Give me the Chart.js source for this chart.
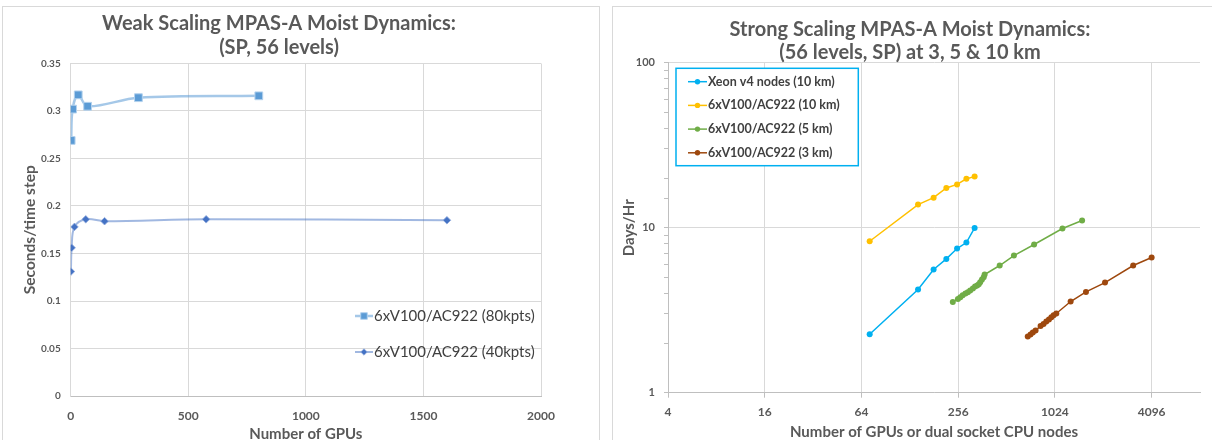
<!DOCTYPE html>
<html><head><meta charset="utf-8">
<script src="https://cdn.jsdelivr.net/npm/chart.js@4"></script>
<style>
html,body{margin:0;padding:0;background:#fff;overflow:hidden;width:1212px;height:440px;}
.panel{position:absolute;border:1px solid #d9d9d9;box-sizing:border-box;}
canvas{position:absolute;top:0;}
</style></head><body>
<div class="panel" style="left:2px;top:6px;width:598px;height:500px"></div>
<div class="panel" style="left:612px;top:6px;width:700px;height:500px"></div>
<canvas id="weak" width="606" height="450" style="left:0px"></canvas>
<canvas id="strong" width="606" height="450" style="left:606px"></canvas>
<script>
// ---------- data: weak scaling ----------
const weakTitle = ['Weak Scaling MPAS-A Moist Dynamics:', '(SP, 56 levels)'];
const weakLabels = ['6xV100/AC922 (80kpts)', '6xV100/AC922 (40kpts)'];
const weakGpus80 = [2, 8, 32, 72, 288, 800];
const weakTime80 = [0.269, 0.302, 0.317, 0.305, 0.314, 0.316];
const weakGpus40 = [1, 4, 16, 64, 144, 576, 1600];
const weakTime40 = [0.131, 0.156, 0.178, 0.186, 0.184, 0.186, 0.185];
const weakXTicks = [0, 500, 1000, 1500, 2000];
const weakYTicks = [0, 0.05, 0.1, 0.15, 0.2, 0.25, 0.3, 0.35];

// ---------- data: strong scaling ----------
const strongTitle = ['Strong Scaling MPAS-A Moist Dynamics:', '(56 levels, SP) at 3, 5 & 10 km'];
const strongLabels = ['Xeon v4 nodes (10 km)', '6xV100/AC922 (10 km)', '6xV100/AC922 (5 km)', '6xV100/AC922 (3 km)'];
const nodes10 = [72, 144, 180, 216, 252, 288, 324];
const xeonDays10 = [2.26, 4.22, 5.58, 6.47, 7.48, 8.13, 9.97];
const gpuDays10 = [8.28, 13.8, 15.2, 17.4, 18.3, 19.8, 20.4];
const gpus5 = [237, 255, 264, 273, 284, 294, 304, 316, 326, 336, 344, 351, 360, 369, 374, 464, 569, 760, 1141, 1512];
const days5 = [3.54, 3.70, 3.79, 3.90, 3.99, 4.06, 4.16, 4.28, 4.40, 4.46, 4.55, 4.67, 4.85, 5.01, 5.20, 5.90, 6.78, 7.91, 9.89, 11.06];
const gpus3 = [694, 722, 746, 776, 834, 870, 905, 940, 973, 1005, 1045, 1283, 1598, 2100, 3145, 4096];
const days3 = [2.19, 2.25, 2.32, 2.38, 2.54, 2.61, 2.70, 2.78, 2.87, 2.95, 3.02, 3.57, 4.08, 4.65, 5.90, 6.60];
const strongXTicks = [4, 16, 64, 256, 1024, 4096];
const strongYLabels = [1, 10, 100];

Chart.defaults.font.family = 'Lato';
const pts = (xs, ys) => xs.map((x, i) => ({x: x, y: ys[i]}));
const GRID = '#d9d9d9';
const TXT = '#595959';

function drawMarker(ctx, style, x, y, r, fill, stroke, bw) {
  ctx.save();
  ctx.fillStyle = fill; ctx.strokeStyle = stroke; ctx.lineWidth = bw;
  ctx.beginPath();
  if (style === 'rect') { const s = r * Math.SQRT1_2; ctx.rect(x - s, y - s, 2 * s, 2 * s); }
  else if (style === 'rectRot') { ctx.moveTo(x, y - r); ctx.lineTo(x + r, y); ctx.lineTo(x, y + r); ctx.lineTo(x - r, y); ctx.closePath(); }
  else { ctx.arc(x, y, r, 0, Math.PI * 2); }
  ctx.fill(); if (bw > 0) ctx.stroke();
  ctx.restore();
}

function legendPlugin(opt) {
  return {
    id: 'customLegend' + opt.id,
    afterDraw(chart) {
      const ctx = chart.ctx;
      ctx.save();
      if (opt.box) {
        ctx.fillStyle = '#fff';
        ctx.fillRect(opt.box[0], opt.box[1], opt.box[2], opt.box[3]);
        ctx.strokeStyle = opt.boxColor; ctx.lineWidth = 1.5;
        ctx.strokeRect(opt.box[0], opt.box[1], opt.box[2], opt.box[3]);
      }
      chart.data.datasets.forEach((ds, i) => {
        const y = opt.y0 + i * opt.dy;
        ctx.strokeStyle = ds.borderColor; ctx.lineWidth = ds.borderWidth;
        ctx.beginPath(); ctx.moveTo(opt.x0, y); ctx.lineTo(opt.x0 + opt.lineLen, y); ctx.stroke();
        drawMarker(ctx, ds.pointStyle, opt.x0 + opt.lineLen / 2, y, ds.pointRadius * opt.markScale,
          ds.pointBackgroundColor, ds.pointBorderColor, ds.pointBorderWidth);
        ctx.fillStyle = opt.color; ctx.font = opt.font;
        ctx.textAlign = 'left'; ctx.textBaseline = 'middle';
        ctx.fillText(ds.label, opt.x0 + opt.lineLen + 1, y);
      });
      ctx.restore();
    }
  };
}

// ---------- weak scaling chart ----------
new Chart(document.getElementById('weak'), {
  type: 'line',
  data: {
    datasets: [
      {label: weakLabels[0], data: pts(weakGpus80, weakTime80), borderColor: 'rgba(91,155,213,0.55)', borderWidth: 2.5,
       pointStyle: 'rect', pointRadius: 5.5, pointBackgroundColor: '#5B9BD5', pointBorderColor: '#b4d2ee', pointBorderWidth: 1,
       tension: 0.35, fill: false},
      {label: weakLabels[1], data: pts(weakGpus40, weakTime40), borderColor: 'rgba(68,114,196,0.5)', borderWidth: 2,
       pointStyle: 'rectRot', pointRadius: 3.8, pointBackgroundColor: '#4472C4', pointBorderColor: '#8faadc', pointBorderWidth: 0.8,
       tension: 0.35, fill: false}
    ]
  },
  options: {
    responsive: false, animation: false, devicePixelRatio: 1,
    layout: {padding: {left: 17, right: 65, top: 0, bottom: 0}},
    plugins: {
      legend: {display: false}, tooltip: {enabled: false},
      title: {display: true, text: weakTitle, color: TXT, font: {size: 20, weight: 'bold', lineHeight: 24 / 20}, padding: {top: 11.5, bottom: 4}}
    },
    scales: {
      x: {type: 'linear', min: 0, max: 2000,
          afterBuildTicks: s => { s.ticks = weakXTicks.map(v => ({value: v})); },
          grid: {color: GRID, drawTicks: false}, border: {color: '#bfbfbf'},
          ticks: {color: TXT, padding: 12.8, font: {size: 12, weight: 'bold'}, callback: v => String(v)},
          title: {display: true, text: 'Number of GPUs', color: TXT, font: {size: 15, weight: 'bold'}, padding: {top: 0, bottom: 6.5}},
          afterFit: s => { s.height = 54; }},
      y: {type: 'linear', min: 0, max: 0.35,
          afterBuildTicks: s => { s.ticks = weakYTicks.map(v => ({value: v})); },
          grid: {color: GRID, drawTicks: false}, border: {color: GRID},
          ticks: {color: TXT, padding: 10, font: {size: 10, weight: 'bold'}, callback: v => String(+v.toFixed(2))},
          title: {display: true, text: 'Seconds/time step', color: TXT, font: {size: 15.5, weight: 'bold'}, padding: {top: 3.7, bottom: 0}},
          afterFit: s => { s.width = 53.7; }}
    }
  },
  plugins: [legendPlugin({id: 'w', x0: 355, y0: 316, dy: 36, lineLen: 18, markScale: 0.85, color: '#404040', font: '15px Lato'})]
});

// ---------- strong scaling chart ----------
const isMajorY = v => strongYLabels.some(l => Math.abs(l - v) < 1e-6);
new Chart(document.getElementById('strong'), {
  type: 'line',
  data: {
    datasets: [
      {label: strongLabels[0], data: pts(nodes10, xeonDays10), borderColor: '#00B0F0', pointBackgroundColor: '#00B0F0'},
      {label: strongLabels[1], data: pts(nodes10, gpuDays10), borderColor: '#FFC000', pointBackgroundColor: '#FFC000'},
      {label: strongLabels[2], data: pts(gpus5, days5), borderColor: '#70AD47', pointBackgroundColor: '#70AD47'},
      {label: strongLabels[3], data: pts(gpus3, days3), borderColor: '#9E480E', pointBackgroundColor: '#9E480E'}
    ].map(d => Object.assign(d, {borderWidth: 1.5, pointStyle: 'circle', pointRadius: 3, pointBorderColor: d.borderColor, pointBorderWidth: 0, tension: 0, fill: false}))
  },
  options: {
    responsive: false, animation: false, devicePixelRatio: 1,
    layout: {padding: {left: 14, right: 12, top: 0, bottom: 0}},
    plugins: {
      legend: {display: false}, tooltip: {enabled: false},
      title: {display: true, text: strongTitle, color: TXT, font: {size: 20, weight: 'bold', lineHeight: 23.5 / 20}, padding: {top: 17.75, bottom: -2.05}}
    },
    scales: {
      x: {type: 'logarithmic', min: 4, max: 8192,
          afterBuildTicks: s => { s.ticks = strongXTicks.map(v => ({value: v})); },
          grid: {color: GRID, drawTicks: true, tickLength: 5, tickColor: '#bfbfbf'}, border: {color: '#bfbfbf'},
          ticks: {color: TXT, padding: 6.8, autoSkip: false, font: {size: 12, weight: 'bold'}, callback: v => String(v)},
          title: {display: true, text: 'Number of GPUs or dual socket CPU nodes', color: TXT, font: {size: 15, weight: 'bold'}, padding: {top: 0, bottom: 8.5}},
          afterFit: s => { s.height = 57.3; }},
      y: {type: 'logarithmic', min: 1, max: 100,
          grid: {color: c => (c.tick && isMajorY(c.tick.value)) ? GRID : 'rgba(0,0,0,0)', drawTicks: true, tickLength: 4, tickColor: '#bfbfbf'},
          border: {color: '#bfbfbf'},
          ticks: {color: TXT, padding: 9, autoSkip: false, font: {size: 11, weight: 'bold'}, callback: v => isMajorY(v) ? String(v) : ''},
          title: {display: true, text: 'Days/Hr', color: TXT, font: {size: 15, weight: 'bold'}, padding: {top: 0, bottom: 0}},
          afterFit: s => { s.width = 48; }}
    }
  },
  plugins: [legendPlugin({id: 's', box: [70, 68.3, 182.3, 97.4], boxColor: '#00B0F0', x0: 82, y0: 81.7, dy: 23.7, lineLen: 19, markScale: 0.9, color: '#404040', font: 'bold 12.5px Lato'})]
});
</script>
</body></html>
